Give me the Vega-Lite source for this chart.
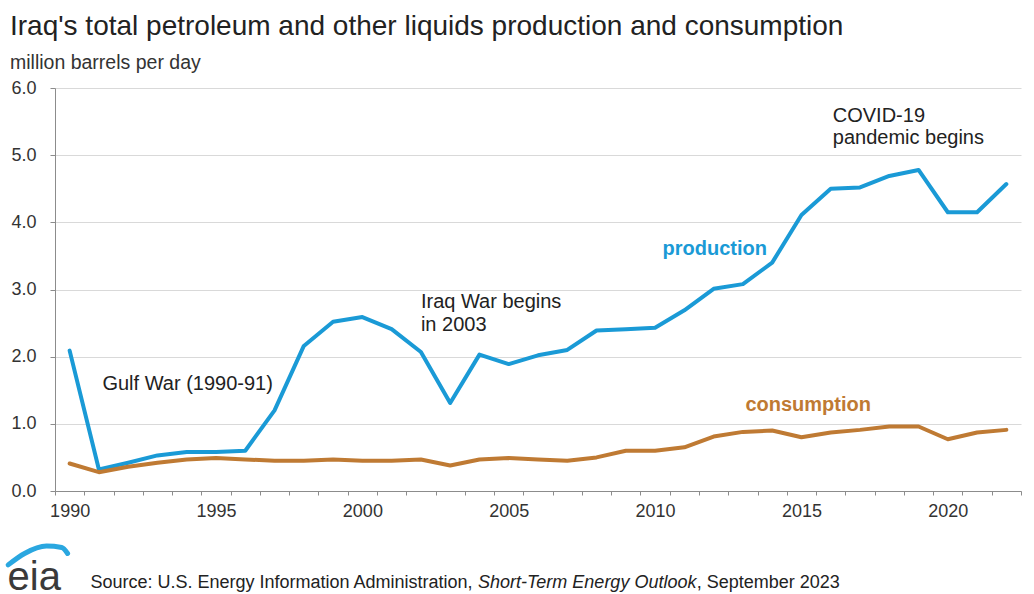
{
  "$schema": "https://vega.github.io/schema/vega-lite/v6.json",
  "width": 966,
  "height": 403,
  "autosize": {"type": "none"},
  "padding": {"left": 55, "top": 88, "right": 13, "bottom": 103},
  "background": "white",
  "config": {
    "font": "Liberation Sans",
    "view": {"stroke": null}
  },
  "title": {
    "text": "Iraq's total petroleum and other liquids production and consumption",
    "subtitle": "million barrels per day",
    "anchor": "start",
    "frame": "group",
    "dx": -45,
    "dy": 5,
    "fontSize": 28,
    "fontWeight": "normal",
    "color": "#222222",
    "subtitleFontSize": 19.5,
    "subtitleColor": "#333333",
    "subtitlePadding": 13,
    "offset": 12
  },
  "resolve": {"axis": {"x": "independent"}},
  "datasets": {
    "series": [
      {"year": 1990, "series": "production", "value": 2.09},
      {"year": 1991, "series": "production", "value": 0.32},
      {"year": 1992, "series": "production", "value": 0.42},
      {"year": 1993, "series": "production", "value": 0.53},
      {"year": 1994, "series": "production", "value": 0.58},
      {"year": 1995, "series": "production", "value": 0.58},
      {"year": 1996, "series": "production", "value": 0.60},
      {"year": 1997, "series": "production", "value": 1.20},
      {"year": 1998, "series": "production", "value": 2.16},
      {"year": 1999, "series": "production", "value": 2.52},
      {"year": 2000, "series": "production", "value": 2.59},
      {"year": 2001, "series": "production", "value": 2.41},
      {"year": 2002, "series": "production", "value": 2.07},
      {"year": 2003, "series": "production", "value": 1.31},
      {"year": 2004, "series": "production", "value": 2.03},
      {"year": 2005, "series": "production", "value": 1.89},
      {"year": 2006, "series": "production", "value": 2.02},
      {"year": 2007, "series": "production", "value": 2.10},
      {"year": 2008, "series": "production", "value": 2.39},
      {"year": 2009, "series": "production", "value": 2.41},
      {"year": 2010, "series": "production", "value": 2.43},
      {"year": 2011, "series": "production", "value": 2.69},
      {"year": 2012, "series": "production", "value": 3.01},
      {"year": 2013, "series": "production", "value": 3.08},
      {"year": 2014, "series": "production", "value": 3.40},
      {"year": 2015, "series": "production", "value": 4.11},
      {"year": 2016, "series": "production", "value": 4.50},
      {"year": 2017, "series": "production", "value": 4.52},
      {"year": 2018, "series": "production", "value": 4.69},
      {"year": 2019, "series": "production", "value": 4.78},
      {"year": 2020, "series": "production", "value": 4.15},
      {"year": 2021, "series": "production", "value": 4.15},
      {"year": 2022, "series": "production", "value": 4.57},
      {"year": 1990, "series": "consumption", "value": 0.41},
      {"year": 1991, "series": "consumption", "value": 0.28},
      {"year": 1992, "series": "consumption", "value": 0.36},
      {"year": 1993, "series": "consumption", "value": 0.42},
      {"year": 1994, "series": "consumption", "value": 0.47},
      {"year": 1995, "series": "consumption", "value": 0.49},
      {"year": 1996, "series": "consumption", "value": 0.47},
      {"year": 1997, "series": "consumption", "value": 0.45},
      {"year": 1998, "series": "consumption", "value": 0.45},
      {"year": 1999, "series": "consumption", "value": 0.47},
      {"year": 2000, "series": "consumption", "value": 0.45},
      {"year": 2001, "series": "consumption", "value": 0.45},
      {"year": 2002, "series": "consumption", "value": 0.47},
      {"year": 2003, "series": "consumption", "value": 0.38},
      {"year": 2004, "series": "consumption", "value": 0.47},
      {"year": 2005, "series": "consumption", "value": 0.49},
      {"year": 2006, "series": "consumption", "value": 0.47},
      {"year": 2007, "series": "consumption", "value": 0.45},
      {"year": 2008, "series": "consumption", "value": 0.50},
      {"year": 2009, "series": "consumption", "value": 0.60},
      {"year": 2010, "series": "consumption", "value": 0.60},
      {"year": 2011, "series": "consumption", "value": 0.65},
      {"year": 2012, "series": "consumption", "value": 0.81},
      {"year": 2013, "series": "consumption", "value": 0.88},
      {"year": 2014, "series": "consumption", "value": 0.90},
      {"year": 2015, "series": "consumption", "value": 0.80},
      {"year": 2016, "series": "consumption", "value": 0.87},
      {"year": 2017, "series": "consumption", "value": 0.91},
      {"year": 2018, "series": "consumption", "value": 0.96},
      {"year": 2019, "series": "consumption", "value": 0.96},
      {"year": 2020, "series": "consumption", "value": 0.77},
      {"year": 2021, "series": "consumption", "value": 0.87},
      {"year": 2022, "series": "consumption", "value": 0.91}
    ],
    "notes": [
      {"year": 1991.12, "value": 1.51, "label": ["Gulf War (1990-91)"]},
      {"year": 2002.0, "value": 2.72, "label": ["Iraq War begins", "in 2003"]},
      {"year": 2016.07, "value": 5.50, "label": ["COVID-19", "pandemic begins"]}
    ],
    "seriesLabels": [
      {"year": 2012.04, "value": 3.51, "series": "production"},
      {"year": 2015.23, "value": 1.19, "series": "consumption"}
    ],
    "source": [
      {"year": 1990.71, "value": -1.45, "kind": "plain", "label": "Source: U.S. Energy Information Administration, "},
      {"year": 2003.95, "value": -1.45, "kind": "italic", "label": "Short-Term Energy Outlook"},
      {"year": 2011.42, "value": -1.45, "kind": "plain", "label": ", September 2023"}
    ],
    "logo": [
      {"year": 1987.88, "value": -1.47, "label": "eia"}
    ],
    "swoosh": [
      {"order": 1, "year": 1987.9, "value": -1.1},
      {"order": 2, "year": 1988.46, "value": -0.93},
      {"order": 3, "year": 1989.21, "value": -0.82},
      {"order": 4, "year": 1989.73, "value": -0.84},
      {"order": 5, "year": 1989.93, "value": -0.93}
    ]
  },
  "layer": [
    {
      "data": {"name": "series"},
      "mark": {"type": "line", "strokeWidth": 4, "strokeJoin": "round", "strokeCap": "round"},
      "encoding": {
        "x": {
          "field": "year",
          "type": "quantitative",
          "scale": {"domain": [1989.5, 2022.5], "nice": false, "zero": false},
          "axis": {
            "title": null,
            "orient": "bottom",
            "offset": 0,
            "grid": false,
            "values": [1989.5, 1990.5, 1991.5, 1992.5, 1993.5, 1994.5, 1995.5, 1996.5, 1997.5, 1998.5, 1999.5, 2000.5, 2001.5, 2002.5, 2003.5, 2004.5, 2005.5, 2006.5, 2007.5, 2008.5, 2009.5, 2010.5, 2011.5, 2012.5, 2013.5, 2014.5, 2015.5, 2016.5, 2017.5, 2018.5, 2019.5, 2020.5, 2021.5, 2022.5],
            "labels": false,
            "domain": true,
            "domainColor": "#8c8c8c",
            "ticks": true,
            "tickSize": 4,
            "tickColor": "#8c8c8c"
          }
        },
        "y": {
          "field": "value",
          "type": "quantitative",
          "scale": {"domain": [0, 6], "nice": false},
          "axis": {
            "title": null,
            "values": [0, 1, 2, 3, 4, 5, 6],
            "format": ".1f",
            "grid": true,
            "gridColor": "#d9d9d9",
            "gridWidth": 1,
            "domainColor": "#8c8c8c",
            "tickColor": "#8c8c8c",
            "tickSize": 5,
            "labelFontSize": 18,
            "labelColor": "#333333",
            "labelPadding": 14
          }
        },
        "color": {
          "field": "series",
          "type": "nominal",
          "scale": {"domain": ["consumption", "production"], "range": ["#bf7a33", "#1a9ad6"]},
          "legend": null
        },
        "order": {"field": "year"}
      }
    },
    {
      "data": {"name": "notes"},
      "mark": {"type": "text", "align": "left", "baseline": "alphabetic", "fontSize": 20, "lineHeight": 22.5, "color": "#222222"},
      "encoding": {
        "x": {
          "field": "year",
          "type": "quantitative",
          "axis": {
            "title": null,
            "orient": "bottom",
            "offset": 0,
            "grid": false,
            "values": [1990, 1995, 2000, 2005, 2010, 2015, 2020],
            "format": "d",
            "labelOverlap": false,
            "labelFlush": false,
            "labelFontSize": 18,
            "labelColor": "#333333",
            "labelPadding": 11,
            "ticks": false,
            "domain": false
          }
        },
        "y": {"field": "value", "type": "quantitative"},
        "text": {"field": "label"}
      }
    },
    {
      "data": {"name": "seriesLabels"},
      "mark": {"type": "text", "align": "center", "baseline": "alphabetic", "fontSize": 20, "fontWeight": "bold"},
      "encoding": {
        "x": {"field": "year", "type": "quantitative", "axis": null},
        "y": {"field": "value", "type": "quantitative"},
        "text": {"field": "series"},
        "color": {"field": "series", "type": "nominal", "scale": {"domain": ["consumption", "production"], "range": ["#bf7a33", "#1a9ad6"]}, "legend": null}
      }
    },
    {
      "data": {"name": "source"},
      "transform": [{"filter": "datum.kind === 'plain'"}],
      "mark": {"type": "text", "align": "left", "baseline": "alphabetic", "fontSize": 18, "color": "#222222"},
      "encoding": {
        "x": {"field": "year", "type": "quantitative", "axis": null},
        "y": {"field": "value", "type": "quantitative"},
        "text": {"field": "label"}
      }
    },
    {
      "data": {"name": "source"},
      "transform": [{"filter": "datum.kind === 'italic'"}],
      "mark": {"type": "text", "align": "left", "baseline": "alphabetic", "fontSize": 18, "fontStyle": "italic", "color": "#222222"},
      "encoding": {
        "x": {"field": "year", "type": "quantitative", "axis": null},
        "y": {"field": "value", "type": "quantitative"},
        "text": {"field": "label"}
      }
    },
    {
      "data": {"name": "swoosh"},
      "mark": {"type": "line", "interpolate": "monotone", "strokeWidth": 5, "strokeCap": "round", "color": "#2aa7e0"},
      "encoding": {
        "x": {"field": "year", "type": "quantitative", "axis": null},
        "y": {"field": "value", "type": "quantitative"},
        "order": {"field": "order"}
      }
    },
    {
      "data": {"name": "logo"},
      "mark": {"type": "text", "align": "left", "baseline": "alphabetic", "fontSize": 40, "color": "#3a3a3a"},
      "encoding": {
        "x": {"field": "year", "type": "quantitative", "axis": null},
        "y": {"field": "value", "type": "quantitative"},
        "text": {"field": "label"}
      }
    }
  ]
}
